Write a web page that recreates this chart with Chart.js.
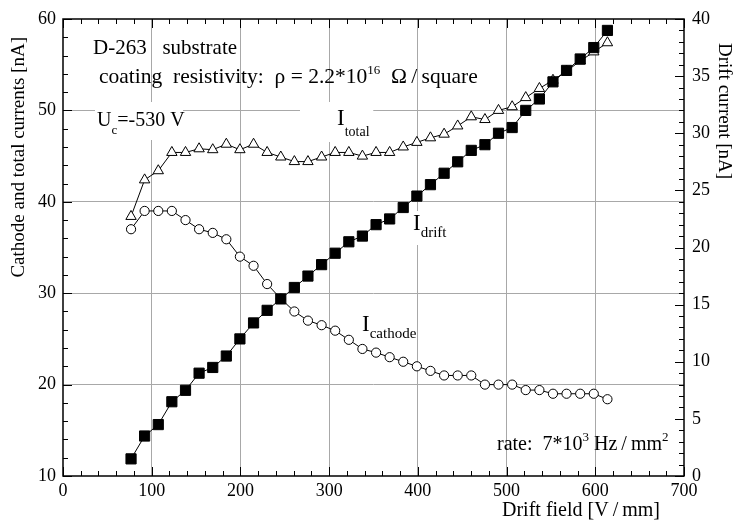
<!DOCTYPE html>
<html>
<head>
<meta charset="utf-8">
<script src="https://cdn.jsdelivr.net/npm/chart.js@4.4.0/dist/chart.umd.min.js"></script>
<style>
    html, body { margin: 0; padding: 0; background: #fff; }
</style>
</head>
<body>
<canvas id="currentChart" width="733" height="523"></canvas>
<script>
// Drift field values [V/mm], shared by all three curves
const driftField = [76.7, 92.0, 107.4, 122.7, 138.1, 153.4, 168.8, 184.1, 199.4, 214.8,
    230.1, 245.5, 260.8, 276.1, 291.5, 306.8, 322.2, 337.5, 352.9, 368.2,
    383.5, 398.9, 414.2, 429.6, 444.9, 460.2, 475.6, 490.9, 506.3, 521.6,
    537.0, 552.3, 567.6, 583.0, 598.3, 613.7];

// Drift current [nA] (right axis)
const driftCurrent = [1.5, 3.5, 4.5, 6.5, 7.5, 9.0, 9.5, 10.5, 12.0, 13.4,
    14.5, 15.5, 16.5, 17.5, 18.5, 19.5, 20.5, 21.0, 22.0, 22.5,
    23.5, 24.5, 25.5, 26.5, 27.5, 28.5, 29.0, 30.0, 30.5, 32.0,
    33.0, 34.5, 35.5, 36.5, 37.5, 39.0];

// Cathode current [nA] (left axis)
const cathodeCurrent = [37.0, 39.0, 39.0, 39.0, 38.0, 37.0, 36.6, 35.9, 34.0, 33.0,
    31.0, 29.4, 28.0, 27.0, 26.5, 25.9, 24.9, 23.9, 23.5, 23.0,
    22.5, 22.0, 21.5, 21.0, 21.0, 21.0, 20.0, 20.0, 20.0, 19.4,
    19.4, 19.0, 19.0, 19.0, 19.0, 18.4];

// Total current [nA] (left axis)
const totalCurrent = [38.4, 42.4, 43.4, 45.4, 45.4, 45.8, 45.7, 46.3, 45.7, 46.3,
    45.4, 44.9, 44.4, 44.4, 44.9, 45.4, 45.4, 45.0, 45.4, 45.4,
    46.0, 46.5, 47.0, 47.4, 48.3, 49.3, 49.0, 50.0, 50.4, 51.4,
    52.4, 53.3, 54.3, 55.4, 56.4, 57.4];

// Axis ranges and tick steps
const xRange = [0, 700, 100, 20];     // min, max, major, minor
const yLeftRange = [10, 60, 10, 2];
const yRightRange = [0, 40, 5, 1];

const serif = "'Liberation Serif', 'Times New Roman', serif";

function toPoints(values) {
    return values.map(function(v, i) { return {x: driftField[i], y: v}; });
}

// Draws a run of text pieces one after another (for sub/superscripts)
function drawPieces(ctx, x, y, pieces) {
    ctx.save();
    ctx.fillStyle = "#000";
    ctx.textBaseline = "alphabetic";
    ctx.textAlign = "left";
    let cx = x;
    pieces.forEach(function(p) {
        ctx.font = p.size + "px " + serif;
        ctx.fillText(p.t, cx, y + (p.dy || 0));
        cx += ctx.measureText(p.t).width;
    });
    ctx.restore();
}

// White patches behind some labels (they hide the grid lines in the original)
const labelBackgrounds = {
    id: "labelBackgrounds",
    beforeDatasetsDraw(chart) {
        const ctx = chart.ctx;
        ctx.save();
        ctx.fillStyle = "#fff";
        ctx.fillRect(95, 102, 88, 38);    // U_c
        ctx.fillRect(300, 102, 73, 40);   // I_total
        ctx.fillRect(410, 211, 50, 34);   // I_drift
        ctx.restore();
    }
};

// Inward tick marks, plot frame and all free text
const frameAndText = {
    id: "frameAndText",
    afterDraw(chart) {
        const ctx = chart.ctx;
        const area = chart.chartArea;
        const sx = chart.scales.x, sl = chart.scales.y, sr = chart.scales.y2;

        ctx.save();
        ctx.strokeStyle = "#000";
        ctx.lineWidth = 1;
        ctx.beginPath();
        for (let v = xRange[0]; v <= xRange[1]; v += xRange[3]) {
            let px = Math.round(sx.getPixelForValue(v)) + 0.5;
            let len = (v % xRange[2] == 0) ? 9 : 5;
            ctx.moveTo(px, area.bottom); ctx.lineTo(px, area.bottom - len);
            ctx.moveTo(px, area.top); ctx.lineTo(px, area.top + len);
        }
        for (let v = yLeftRange[0]; v <= yLeftRange[1]; v += yLeftRange[3]) {
            let py = Math.round(sl.getPixelForValue(v)) + 0.5;
            let len = ((v - yLeftRange[0]) % yLeftRange[2] == 0) ? 9 : 5;
            ctx.moveTo(area.left, py); ctx.lineTo(area.left + len, py);
        }
        for (let v = yRightRange[0]; v <= yRightRange[1]; v += yRightRange[3]) {
            let py = Math.round(sr.getPixelForValue(v)) + 0.5;
            let len = (v % yRightRange[2] == 0) ? 9 : 5;
            ctx.moveTo(area.right, py); ctx.lineTo(area.right - len, py);
        }
        ctx.stroke();

        ctx.lineWidth = 1.5;
        ctx.strokeRect(area.left, area.top, area.right - area.left, area.bottom - area.top);
        ctx.restore();

        // annotations
        drawPieces(ctx, 93, 54, [{t: "D-263   substrate", size: 21}]);
        drawPieces(ctx, 99, 83, [
            {t: "coating  resistivity:  \u03c1 = 2.2*10", size: 21.5},
            {t: "16", size: 13, dy: -9},
            {t: "  \u03a9\u2009/\u2009square", size: 21.5}
        ]);
        drawPieces(ctx, 97, 126, [
            {t: "U", size: 20},
            {t: "c", size: 13, dy: 8},
            {t: "=-530 V", size: 20}
        ]);
        drawPieces(ctx, 337, 125, [{t: "I", size: 23}, {t: "total", size: 14, dy: 11}]);
        drawPieces(ctx, 413, 230, [{t: "I", size: 23}, {t: "drift", size: 15, dy: 7}]);
        drawPieces(ctx, 362, 331, [{t: "I", size: 23}, {t: "cathode", size: 15, dy: 7}]);
        drawPieces(ctx, 497, 450, [
            {t: "rate:  7*10", size: 20},
            {t: "3", size: 13, dy: -9},
            {t: " Hz\u2009/\u2009mm", size: 20},
            {t: "2", size: 13, dy: -9}
        ]);
        drawPieces(ctx, 502, 516, [{t: "Drift field [V\u2009/\u2009mm]", size: 20}]);

        // axis titles
        ctx.save();
        ctx.fillStyle = "#000";
        ctx.font = "19px " + serif;
        ctx.textBaseline = "middle";
        ctx.textAlign = "right";
        ctx.translate(19, 37);
        ctx.rotate(-Math.PI / 2);
        ctx.fillText("Cathode and total currents [nA]", 0, 0);
        ctx.restore();

        ctx.save();
        ctx.fillStyle = "#000";
        ctx.font = "19px " + serif;
        ctx.textBaseline = "middle";
        ctx.textAlign = "left";
        ctx.translate(724, 43);
        ctx.rotate(Math.PI / 2);
        ctx.fillText("Drift current [nA]", 0, 0);
        ctx.restore();
    }
};

function gridColor(ends) {
    return function(c) {
        return (c.tick && ends.indexOf(c.tick.value) >= 0) ? "rgba(0,0,0,0)" : "#a8a8a8";
    };
}

const lineStyle = {
    borderColor: "#000",
    borderWidth: 1,
    showLine: true,
    fill: false,
    tension: 0,
    pointBorderColor: "#000",
    pointBorderWidth: 1
};

new Chart(document.getElementById("currentChart"), {
    type: "scatter",
    data: {
        datasets: [
            Object.assign({}, lineStyle, {
                label: "I drift",
                data: toPoints(driftCurrent),
                yAxisID: "y2",
                pointStyle: "rect",
                pointRadius: 7.2,
                pointBackgroundColor: "#000",
                order: 0
            }),
            Object.assign({}, lineStyle, {
                label: "I cathode",
                data: toPoints(cathodeCurrent),
                yAxisID: "y",
                pointStyle: "circle",
                pointRadius: 4.6,
                pointBackgroundColor: "#fff",
                order: 1
            }),
            Object.assign({}, lineStyle, {
                label: "I total",
                data: toPoints(totalCurrent),
                yAxisID: "y",
                pointStyle: "triangle",
                pointRadius: 6,
                pointBackgroundColor: "#fff",
                order: 2
            })
        ]
    },
    options: {
        responsive: false,
        animation: false,
        layout: {padding: {left: 0, right: 0, top: 19, bottom: 0}},
        plugins: {
            legend: {display: false},
            tooltip: {enabled: false}
        },
        scales: {
            x: {
                type: "linear",
                min: xRange[0], max: xRange[1],
                afterFit(scale) { scale.height = 47; },
                ticks: {stepSize: xRange[2], padding: 4, color: "#000", font: {family: serif, size: 18}},
                grid: {color: gridColor([0, 700]), lineWidth: 1, drawTicks: false},
                border: {display: false}
            },
            y: {
                type: "linear",
                position: "left",
                min: yLeftRange[0], max: yLeftRange[1],
                afterFit(scale) { scale.width = 63; },
                ticks: {stepSize: yLeftRange[2], padding: 7, color: "#000", font: {family: serif, size: 18}},
                grid: {color: gridColor([10, 60]), lineWidth: 1, drawTicks: false},
                border: {display: false}
            },
            y2: {
                type: "linear",
                position: "right",
                min: yRightRange[0], max: yRightRange[1],
                afterFit(scale) { scale.width = 49; },
                ticks: {stepSize: yRightRange[2], padding: 8, color: "#000", font: {family: serif, size: 18}},
                grid: {display: false, drawTicks: false},
                border: {display: false}
            }
        }
    },
    plugins: [labelBackgrounds, frameAndText]
});
</script>
</body>
</html>
